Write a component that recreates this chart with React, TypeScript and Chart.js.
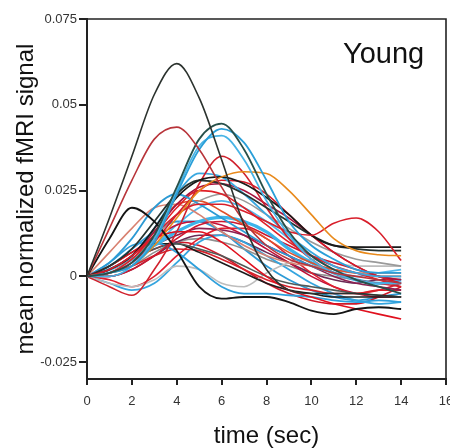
import React, { useEffect, useRef } from "react";
import { Chart, registerables } from "chart.js";

Chart.register(...registerables);

// time samples (sec)
const times = [0, 1, 2, 3, 4, 5, 6, 7, 8, 9, 10, 11, 12, 13, 14];

const xTicks = [0, 2, 4, 6, 8, 10, 12, 14, 16];
const yTicks = [-0.025, 0, 0.025, 0.05, 0.075];
const yTickLabels = ["-0.025", "0", "0.025", "0.05", "0.075"];

const xTitle = "time (sec)";
const yTitle = "mean normalized fMRI signal";
const groupLabel = "Young";

// individual subject response curves (mean normalized fMRI signal)
const subjA = [0, 0.017, 0.035, 0.053, 0.062, 0.052, 0.034, 0.015, 0.002, -0.004, -0.005, -0.005, -0.005, -0.0055, -0.006];
const subjB = [0, 0.014, 0.028, 0.040, 0.0435, 0.037, 0.026, 0.016, 0.009, 0.005, 0.003, 0.001, 0.0, -0.001, -0.002];
const subjC = [0, 0.001, 0.004, 0.012, 0.026, 0.040, 0.0445, 0.037, 0.024, 0.013, 0.006, 0.002, -0.001, -0.003, -0.005];
const subjD = [0, 0.001, 0.003, 0.010, 0.024, 0.037, 0.043, 0.039, 0.028, 0.016, 0.009, 0.005, 0.002, 0.001, 0.001];
const subjD2 = [0, 0.0, 0.003, 0.011, 0.025, 0.038, 0.041, 0.034, 0.022, 0.012, 0.005, 0.001, -0.001, -0.002, -0.002];
const subjE = [0, 0.011, 0.020, 0.016, 0.0075, -0.003, -0.0065, -0.006, -0.006, -0.0075, -0.010, -0.011, -0.0095, -0.009, -0.0095];
const subjF = [0, 0.001, 0.003, 0.009, 0.017, 0.025, 0.029, 0.0305, 0.030, 0.025, 0.018, 0.011, 0.0075, 0.0063, 0.006];
const subjG = [0, 0.002, 0.006, 0.012, 0.018, 0.021, 0.021, 0.019, 0.016, 0.013, 0.012, 0.0155, 0.017, 0.013, 0.0046];
const subjH1 = [0, 0.002, 0.006, 0.014, 0.023, 0.028, 0.029, 0.027, 0.023, 0.018, 0.012, 0.009, 0.0085, 0.0085, 0.0085];
const subjH2 = [0, 0.003, 0.008, 0.016, 0.024, 0.028, 0.027, 0.024, 0.020, 0.016, 0.012, 0.009, 0.008, 0.0075, 0.0075];
const subjI = [0, -0.003, -0.0055, 0.002, 0.013, 0.027, 0.035, 0.030, 0.020, 0.011, 0.005, 0.001, -0.001, -0.002, -0.003];
const subjJ = [0, 0.003, 0.007, 0.011, 0.013, 0.013, 0.010, 0.005, 0.0, -0.004, -0.006, -0.008, -0.0095, -0.011, -0.0124];
const subjK = [0, 0.002, 0.006, 0.014, 0.024, 0.030, 0.029, 0.024, 0.018, 0.012, 0.007, 0.003, 0.001, 0.0, 0.0];
const subjL = [0, 0.004, 0.011, 0.020, 0.024, 0.021, 0.017, 0.013, 0.009, 0.006, 0.003, 0.001, -0.001, -0.002, -0.002];
const subjM = [0, 0.001, 0.004, 0.010, 0.018, 0.025, 0.028, 0.0275, 0.024, 0.018, 0.012, 0.007, 0.003, 0.0, -0.002];
const subjN = [0, 0.002, 0.006, 0.013, 0.021, 0.026, 0.027, 0.025, 0.021, 0.017, 0.012, 0.007, 0.003, 0.0, -0.001];
const subjO = [0, 0.001, 0.005, 0.012, 0.020, 0.025, 0.024, 0.020, 0.015, 0.010, 0.006, 0.003, 0.001, -0.001, -0.003];
const subjP = [0, 0.002, 0.005, 0.011, 0.018, 0.022, 0.024, 0.022, 0.018, 0.014, 0.010, 0.007, 0.005, 0.004, 0.003];
const subjQ = [0, 0.002, 0.006, 0.013, 0.021, 0.022, 0.019, 0.015, 0.011, 0.007, 0.004, 0.002, 0.001, 0.0, 0.0];
const subjR = [0, 0.007, 0.014, 0.020, 0.021, 0.018, 0.013, 0.009, 0.006, 0.004, 0.003, 0.002, 0.001, 0.001, 0.001];
const subjS = [0, 0.002, 0.005, 0.009, 0.013, 0.016, 0.0172, 0.016, 0.013, 0.008, 0.004, 0.001, -0.001, -0.002, -0.001];
const subjT = [0, 0.0, 0.002, 0.006, 0.011, 0.015, 0.016, 0.015, 0.012, 0.009, 0.006, 0.004, 0.002, 0.0, -0.001];
const subjU = [0, 0.002, 0.005, 0.009, 0.012, 0.014, 0.0135, 0.012, 0.009, 0.006, 0.003, 0.0, -0.002, -0.003, -0.004];
const subjV = [0, 0.002, 0.005, 0.008, 0.0095, 0.008, 0.006, 0.003, 0.0, -0.002, -0.003, -0.004, -0.005, -0.0055, -0.006];
const subjW = [0, 0.004, 0.009, 0.010, 0.007, 0.002, -0.003, -0.005, -0.005, -0.0055, -0.006, -0.007, -0.0075, -0.007, -0.0075];
const subjX = [0, 0.003, 0.007, 0.0095, 0.0095, 0.007, 0.004, 0.001, -0.002, -0.004, -0.005, -0.006, -0.006, -0.006, -0.006];
const subjY = [0, 0.001, 0.003, 0.006, 0.008, 0.0075, 0.005, 0.002, -0.001, -0.003, -0.004, -0.005, -0.005, -0.004, -0.004];
const subjZ = [0, -0.002, -0.003, -0.001, 0.003, 0.002, -0.002, -0.003, 0.001, 0.004, 0.005, 0.004, 0.003, 0.003, 0.003];
const subjAA = [0, -0.002, -0.004, -0.002, 0.004, 0.010, 0.012, 0.010, 0.006, 0.002, -0.002, -0.005, -0.007, -0.008, -0.0075];
const subjAB = [0, -0.001, -0.003, 0.0, 0.006, 0.011, 0.014, 0.014, 0.011, 0.006, 0.001, -0.003, -0.005, -0.004, -0.002];
const subjAC = [0, 0.002, 0.006, 0.011, 0.015, 0.016, 0.015, 0.012, 0.008, 0.004, 0.0, -0.003, -0.005, -0.006, -0.006];
const subjAD = [0, 0.001, 0.004, 0.009, 0.015, 0.020, 0.022, 0.020, 0.016, 0.011, 0.006, 0.002, 0.0, 0.001, 0.002];
const subjAE = [0, 0.0, 0.002, 0.006, 0.010, 0.012, 0.012, 0.010, 0.007, 0.004, 0.001, -0.001, -0.002, -0.001, -0.001];
const subjAF = [0, 0.001, 0.003, 0.007, 0.010, 0.011, 0.010, 0.008, 0.005, 0.003, 0.001, 0.0, -0.001, -0.002, -0.002];
const subjAG = [0, 0.002, 0.005, 0.008, 0.010, 0.009, 0.006, 0.002, -0.002, -0.005, -0.007, -0.008, -0.008, -0.006, -0.003];
const subjAH = [0, 0.003, 0.008, 0.013, 0.016, 0.016, 0.013, 0.008, 0.003, -0.001, -0.004, -0.006, -0.007, -0.006, -0.005];

const curves: [number[], string, number][] = [
  [subjA, "#2b322e", 1.6],
  [subjB, "#b8343a", 1.6],
  [subjC, "#27504a", 1.8],
  [subjD, "#2a9fd8", 1.8],
  [subjD2, "#48b4e6", 1.8],
  [subjE, "#141414", 1.8],
  [subjF, "#e88a1c", 1.6],
  [subjG, "#d81e2a", 1.6],
  [subjH1, "#1a1a1a", 1.8],
  [subjH2, "#263330", 1.8],
  [subjI, "#d0202c", 1.6],
  [subjJ, "#e0101e", 1.6],
  [subjK, "#3aa8e0", 1.8],
  [subjL, "#2c9ad4", 1.8],
  [subjM, "#d41a28", 1.6],
  [subjN, "#a8123e", 1.6],
  [subjO, "#e02028", 1.6],
  [subjP, "#9a9a9a", 1.6],
  [subjQ, "#e0502a", 1.6],
  [subjR, "#d88070", 1.6],
  [subjS, "#3cb4ea", 3.2],
  [subjT, "#cc1830", 1.6],
  [subjU, "#8a2050", 1.6],
  [subjV, "#505a58", 1.6],
  [subjW, "#2ea0dc", 1.8],
  [subjX, "#1c1c1c", 1.6],
  [subjY, "#d8202a", 1.6],
  [subjZ, "#bdbdbd", 1.6],
  [subjAA, "#35a5df", 1.8],
  [subjAB, "#e02030", 1.6],
  [subjAC, "#c0103a", 1.6],
  [subjAD, "#50b8ec", 1.8],
  [subjAE, "#6a2a55", 1.6],
  [subjAF, "#909090", 1.6],
  [subjAG, "#d01828", 1.6],
  [subjAH, "#2d9bd6", 1.8],
];

const FONT = "'Liberation Sans', Arial, Helvetica, sans-serif";

const framePlugin = {
  id: "frameAndLabel",
  afterDraw(chart: any) {
    const { ctx, chartArea } = chart;
    ctx.save();
    ctx.strokeStyle = "#222";
    ctx.lineWidth = 1.6;
    ctx.beginPath();
    ctx.moveTo(chartArea.left, chartArea.top);
    ctx.lineTo(chartArea.right, chartArea.top);
    ctx.lineTo(chartArea.right, chartArea.bottom);
    ctx.stroke();
    ctx.fillStyle = "#111";
    ctx.font = `29px ${FONT}`;
    ctx.textAlign = "left";
    ctx.textBaseline = "alphabetic";
    ctx.fillText(groupLabel, 343, 63);
    ctx.restore();
  },
};

export default function App() {
  const ref = useRef<HTMLCanvasElement | null>(null);

  useEffect(() => {
    document.body.style.margin = "0";
    const canvas = ref.current;
    if (!canvas) return;
    const datasets = curves.map(([vals, color, w], i) => ({
      label: "s" + i,
      data: vals.map((v, k) => ({ x: times[k], y: v })),
      borderColor: color,
      borderWidth: w,
      pointRadius: 0,
      fill: false,
      cubicInterpolationMode: "monotone" as const,
    }));
    const chart = new Chart(canvas, {
      type: "line",
      data: { datasets },
      plugins: [framePlugin],
      options: {
        animation: false,
        responsive: false,
        layout: { padding: { top: 19, right: 4, left: 0, bottom: 0 } },
        plugins: { legend: { display: false }, tooltip: { enabled: false } },
        scales: {
          x: {
            type: "linear",
            min: 0,
            max: 16,
            afterBuildTicks: (s: any) => {
              s.ticks = xTicks.map((v) => ({ value: v }));
            },
            afterFit: (s: any) => {
              s.height = 69;
              s.paddingLeft = 0;
              s.paddingRight = 0;
            },
            grid: { drawOnChartArea: false, drawTicks: true, tickLength: 6, lineWidth: 2, color: "#222" },
            border: { display: true, width: 2, color: "#222" },
            ticks: {
              color: "#333",
              padding: 9,
              maxRotation: 0,
              autoSkip: false,
              font: { family: FONT, size: 13 },
              callback: (v: any) => String(v),
            },
            title: {
              display: true,
              text: xTitle,
              color: "#111",
              font: { family: FONT, size: 24, lineHeight: 1 },
              padding: { top: 0, bottom: 0 },
            },
          },
          y: {
            type: "linear",
            min: -0.0299,
            max: 0.075,
            afterBuildTicks: (s: any) => {
              s.ticks = yTicks.map((v) => ({ value: v }));
            },
            afterFit: (s: any) => {
              s.width = 87;
              s.paddingTop = 0;
              s.paddingBottom = 0;
            },
            grid: { drawOnChartArea: false, drawTicks: true, tickLength: 8, lineWidth: 2, color: "#222" },
            border: { display: true, width: 2, color: "#222" },
            ticks: {
              color: "#333",
              padding: 2,
              autoSkip: false,
              font: { family: FONT, size: 13 },
              callback: (v: any) => {
                const i = yTicks.findIndex((t) => Math.abs(t - v) < 1e-9);
                return i >= 0 ? yTickLabels[i] : "";
              },
            },
            title: {
              display: true,
              text: yTitle,
              color: "#111",
              font: { family: FONT, size: 24, lineHeight: 1.2 },
              padding: { top: 12, bottom: 0 },
            },
          },
        },
      },
    });
    return () => chart.destroy();
  }, []);

  return (
    <div style={{ position: "fixed", left: 0, top: 0, width: 450, height: 448, background: "#fff" }}>
      <canvas ref={ref} width={450} height={448} style={{ display: "block" }} />
    </div>
  );
}
